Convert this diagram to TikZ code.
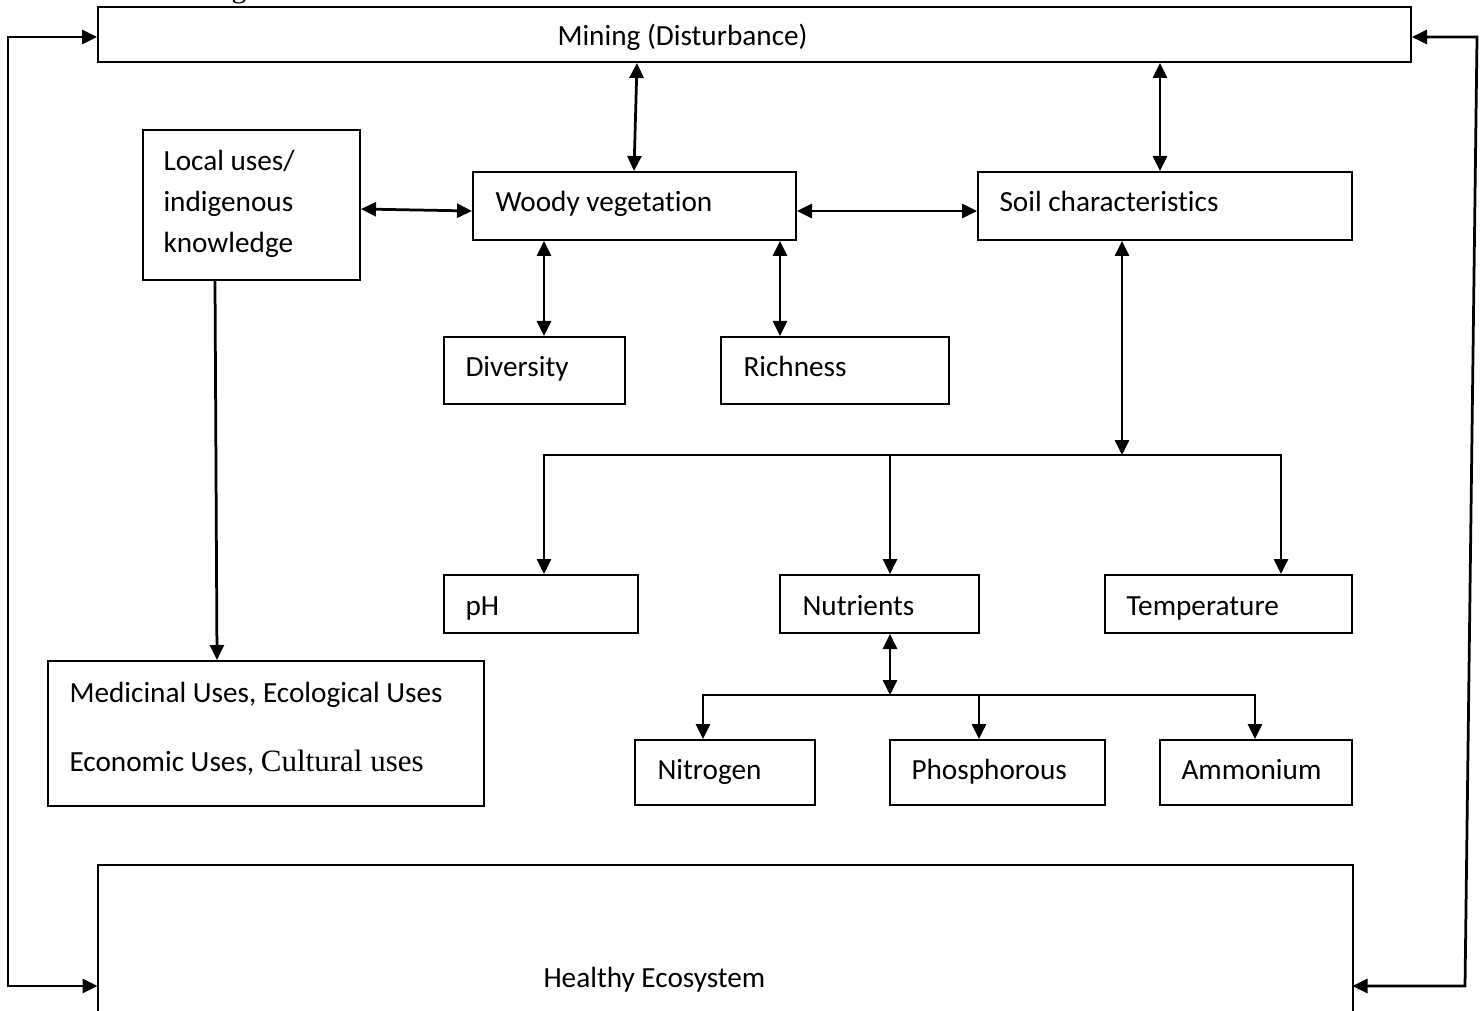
\documentclass[tikz,border=0pt]{standalone}
\usepackage{fontspec}
\setmainfont{Carlito}[Ligatures=NoCommon]
\newfontfamily\timesf{Liberation Serif}
\usetikzlibrary{arrows.meta,fit}
\begin{document}
\begin{tikzpicture}[x=0.4pt,y=-0.4pt,
  box/.style={draw, line width=0.8pt, inner sep=0pt},
  txt/.style={anchor=base west, inner sep=0pt, font=\fontsize{11.7}{14}\selectfont},
  conn/.style={line width=1.1pt},
  >={Triangle[length=6pt,width=5.6pt]}
]
\useasboundingbox (0,0) rectangle (1484,1011);

% cut-off caption fragment
\node[anchor=base east, inner sep=0pt, font=\timesf\fontsize{12}{14}\selectfont] (frag) at (247,-2) {ing};

% boxes
\node[box, fit={(98,7) (1411,62)}] (mining) {};
\node[txt] (miningt) at (557,46) {Mining (Disturbance)};

\node[inner sep=0pt, fit={(98,865) (1352,1040)}] (healthy) {};
\draw[line width=0.8pt] (healthy.south west) -- (healthy.north west) -- (healthy.north east) -- (healthy.south east);
\node[txt] (healthyt) at (543,987) {Healthy Ecosystem};

\node[box, fit={(143,130) (360,280)}] (local) {};
\node[txt] (localt1) at (163,171) {Local uses/};
\node[txt] (localt2) at (163,212) {indigenous};
\node[txt] (localt3) at (163,253) {knowledge};

\node[box, fit={(473,172) (796,240)}] (woody) {};
\node[txt] (woodyt) at (495,212) {Woody vegetation};

\node[box, fit={(978,172) (1352,240)}] (soil) {};
\node[txt] (soilt) at (999,212) {Soil characteristics};

\node[box, fit={(444,337) (625,404)}] (div) {};
\node[txt] (divt) at (465,377) {Diversity};

\node[box, fit={(721,337) (949,404)}] (rich) {};
\node[txt] (richt) at (743,377) {Richness};

\node[box, fit={(444,575) (638,633)}] (ph) {};
\node[txt] (pht) at (465,615) {pH};

\node[box, fit={(780,575) (979,633)}] (nut) {};
\node[txt] (nutt) at (802,615) {Nutrients};

\node[box, fit={(1105,575) (1352,633)}] (temp) {};
\node[txt] (tempt) at (1126,615) {Temperature};

\node[box, fit={(635,740) (815,805)}] (nit) {};
\node[txt] (nitt) at (657,779) {Nitrogen};

\node[box, fit={(890,740) (1105,805)}] (pho) {};
\node[txt] (phot) at (911,779) {Phosphorous};

\node[box, fit={(1160,740) (1352,805)}] (amm) {};
\node[txt] (ammt) at (1181,779) {Ammonium};

\node[box, fit={(48,661) (484,806)}] (med) {};
\node[txt] (medt1) at (69,702) {Medicinal Uses, Ecological Uses};
\node[txt] (medt2) at (69,771) {Economic Uses, {\timesf\fontsize{12.4}{14}\selectfont Cultural uses}};

% connectors
\coordinate (xa) at (637,0); \coordinate (xb) at (634,0);
\draw[conn,<->] (xa |- mining.south) -- (xb |- woody.north);
\coordinate (xc) at (1160,0);
\draw[conn,<->] (xc |- mining.south) -- (xc |- soil.north);
\coordinate (ya) at (0,209); \coordinate (yb) at (0,211);
\draw[conn,<->] (local.east |- ya) -- (woody.west |- yb);
\coordinate (yc) at (0,211);
\draw[conn,<->] (woody.east |- yc) -- (soil.west |- yc);
\coordinate (xd) at (544,0);
\draw[conn,<->] (xd |- woody.south) -- (xd |- div.north);
\coordinate (xe) at (780,0);
\draw[conn,<->] (xe |- woody.south) -- (xe |- rich.north);
\coordinate (xf) at (215,0); \coordinate (xg) at (217,0);
\draw[conn,->] (xf |- local.south) -- (xg |- med.north);

\coordinate (b1) at (1122,455);
\draw[conn,<->] (b1 |- soil.south) -- (b1);
\coordinate (b1l) at (544,455); \coordinate (b1m) at (890,455); \coordinate (b1r) at (1281,455);
\draw[conn,<->] (b1l |- ph.north) -- (b1l) -- (b1r) -- (b1r |- temp.north);
\draw[conn,->] (b1m) -- (b1m |- nut.north);

\coordinate (b2) at (890,695);
\draw[conn,<->] (b2 |- nut.south) -- (b2);
\coordinate (b2l) at (703,695); \coordinate (b2m) at (979,695); \coordinate (b2r) at (1255,695);
\draw[conn,<->] (b2l |- nit.north) -- (b2l) -- (b2r) -- (b2r |- amm.north);
\draw[conn,->] (b2m) -- (b2m |- pho.north);

% feedback loops
\coordinate (lt) at (8,37); \coordinate (lb) at (8,986);
\draw[conn,<->] (lt -| mining.west) -- (lt) -- (lb) -- (lb -| healthy.west);
\coordinate (rt) at (1477,37); \coordinate (rb) at (1465,986);
\draw[conn,<->] (rt -| mining.east) -- (rt) -- (rb) -- (rb -| healthy.east);
\end{tikzpicture}
\end{document}
